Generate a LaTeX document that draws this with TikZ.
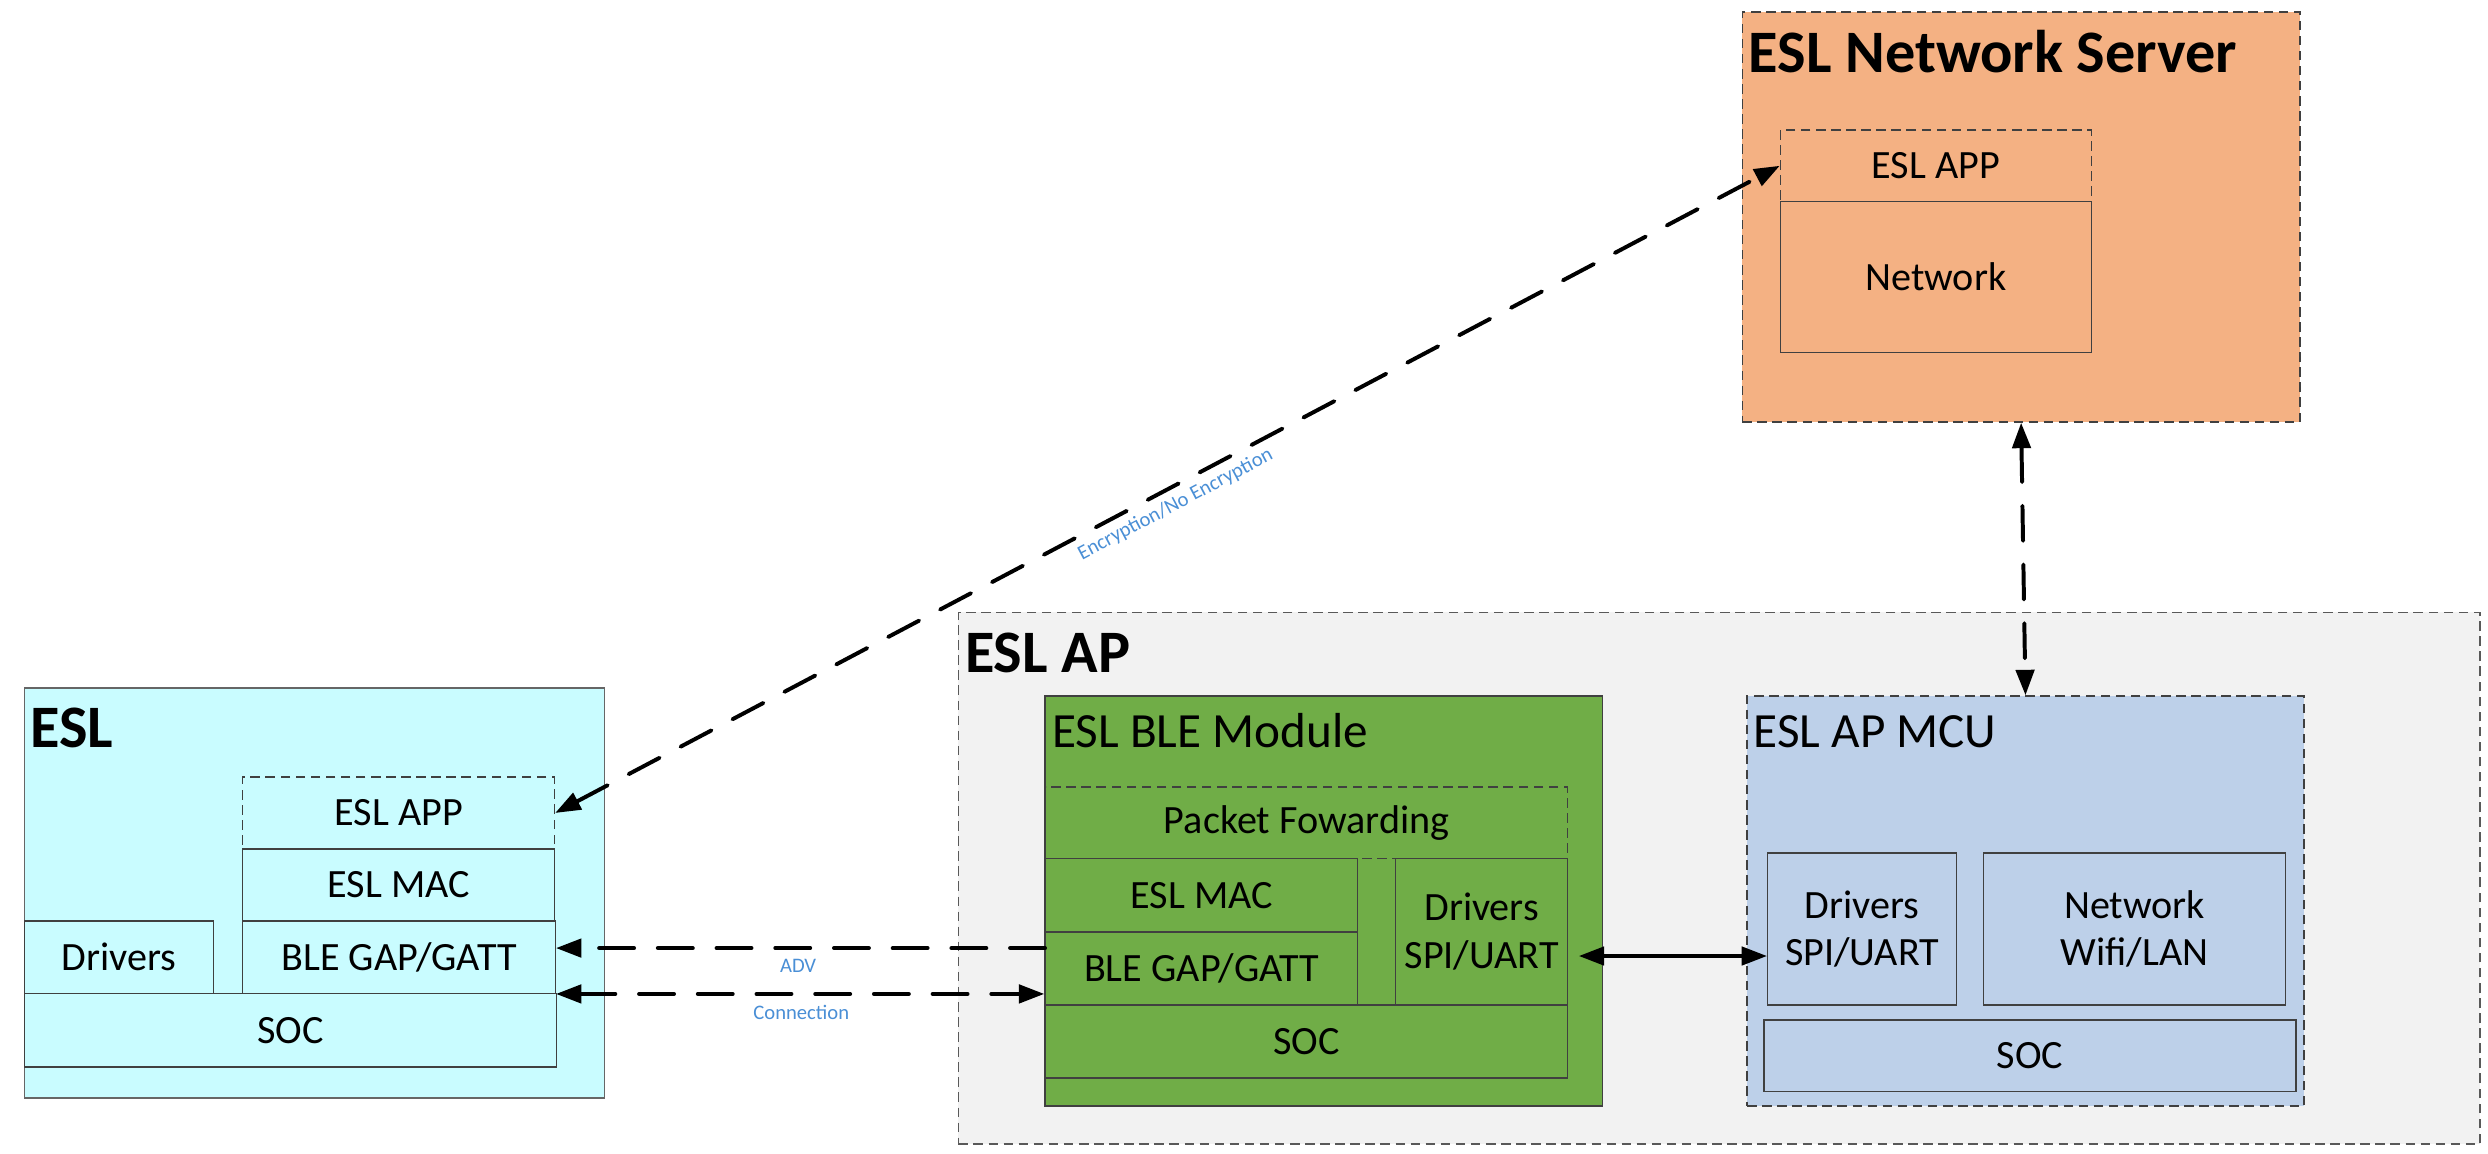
\documentclass[tikz,border=0pt]{standalone}
\usepackage{fontspec}
\setmainfont{Carlito}
\usetikzlibrary{arrows.meta,calc,fit}
\definecolor{srvfill}{HTML}{F4B183}
\definecolor{apfill}{HTML}{F2F2F2}
\definecolor{eslfill}{HTML}{C9FCFF}
\definecolor{blefill}{HTML}{70AD47}
\definecolor{mcufill}{HTML}{BDD0E9}
\definecolor{lblblue}{HTML}{4A8FD6}
\definecolor{edgecol}{HTML}{404040}
\definecolor{apedge}{HTML}{595959}
\begin{document}
\begin{tikzpicture}[x=1pt,y=-1pt,
  layer/.style={draw=edgecol, line width=0.8pt, inner sep=0pt, align=center},
  dlayer/.style={layer, dash pattern=on 6pt off 3.5pt},
  ltxt/.style={font=\fontsize{25.3}{30}\selectfont, align=center},
  outer/.style={inner sep=0pt, line width=0.9pt},
  dashedouter/.style={outer, dash pattern=on 6pt off 3.5pt},
  titletxt/.style={anchor=base west, inner sep=0pt, font=\fontsize{38}{44}\selectfont\bfseries},
  subtitletxt/.style={anchor=base west, inner sep=0pt, font=\fontsize{31}{36}\selectfont},
  lbl/.style={text=lblblue, inner sep=1pt, font=\fontsize{13}{15}\selectfont},
  connline/.style={line width=2.5pt, line cap=round, dash pattern=on 22pt off 15pt},
  solidline/.style={line width=2.5pt},
  onetip/.style={-{Triangle[length=16pt,width=11.5pt]}},
  twotips/.style={{Triangle[length=16pt,width=11.5pt]}-{Triangle[length=16pt,width=11.5pt]}}
]
\fill[white] (0,0) rectangle (1568,727);
\useasboundingbox (0,0) rectangle (1568,727);

% containers
\node[dashedouter, draw=apedge, fill=apfill, fit={(604,386) (1563,721)}] (ap) {};
\node[dashedouter, draw=edgecol, fill=srvfill, fit={(1098,7.5) (1449.5,266)}] (srv) {};
\node[outer, draw=gray!80!black, fill=eslfill, fit={(15.4,433.6) (381,692)}] (esl) {};
\node[outer, draw=edgecol, fill=blefill, fit={(658.6,438.6) (1010,697)}] (ble) {};
\node[dashedouter, draw=edgecol, fill=mcufill, fit={(1101,438.6) (1452,697)}] (mcu) {};

% titles
\node[titletxt] (srvt) at (1102,45.5) {ESL Network Server};
\node[titletxt] (apt) at (608,424) {ESL AP};
\node[titletxt] (eslt) at (19,471) {ESL};
\node[subtitletxt] (blet) at (663,471) {ESL BLE Module};
\node[subtitletxt] (mcut) at (1105,471.4) {ESL AP MCU};

% server layers
\node[dlayer, fit={(1122,82) (1318,127)}] (sapp) {};
\node[ltxt] at (sapp.center) (sappt) {ESL APP};
\node[layer, fit={(1122,127) (1318,222)}] (snet) {};
\node[ltxt] at (snet.center) (snett) {Network};

% ESL layers
\node[dlayer, fit={(153,489.7) (349.5,535)}] (eapp) {};
\node[ltxt] at (eapp.center) (eappt) {ESL APP};
\node[layer, fit={(153,535) (349.5,580.5)}] (emac) {};
\node[ltxt] at (emac.center) (emact) {ESL MAC};
\node[layer, fit={(153,580.5) (350,626)}] (eble) {};
\node[ltxt] at (eble.center) (eblet) {BLE GAP/GATT};
\node[layer, fit={(15.4,580.5) (134.5,626)}] (edrv) {};
\node[ltxt] at (edrv.center) (edrvt) {Drivers};
\node[layer, fit={(15.4,626) (350.5,672.5)}] (esoc) {};
\node[ltxt] at (esoc.center) (esoct) {SOC};

% BLE module layers
\node[dlayer, fit={(659,496) (988,541)}] (bpf) {};
\node[ltxt] at (bpf.center) (bpft) {Packet Fowarding};
\node[layer, fit={(659,541) (855.6,587.4)}] (bmac) {};
\node[ltxt] at (bmac.center) (bmact) {ESL MAC};
\node[layer, fit={(659,587.4) (855.6,633.4)}] (bble) {};
\node[ltxt] at (bble.center) (bblet) {BLE GAP/GATT};
\node[layer, fit={(879.5,541) (988,633.4)}] (bdrv) {};
\node[ltxt] at (bdrv.center) (bdrvt) {Drivers\\SPI/UART};
\node[layer, fit={(659,633.4) (988,679.4)}] (bsoc) {};
\node[ltxt] at (bsoc.center) (bsoct) {SOC};

% MCU layers
\node[layer, fit={(1114,537.6) (1233,633.4)}] (mdrv) {};
\node[ltxt] at (mdrv.center) (mdrvt) {Drivers\\SPI/UART};
\node[layer, fit={(1250,537.6) (1440.5,633.4)}] (mnet) {};
\node[ltxt] at (mnet.center) (mnett) {Network\\Wifi/LAN};
\node[layer, fit={(1111.7,642.8) (1447,688)}] (msoc) {};
\node[ltxt] at (msoc.center) (msoct) {SOC};

% connectors
\draw[connline, twotips] (eapp.east) -- node[lbl, sloped, below=3pt, pos=0.5] (enclbl) {Encryption/No Encryption} (sapp.west);
\draw[connline, twotips] (srv.south) -- (mcu.north);
\coordinate (advR) at (658.6,597.5);
\draw[connline, onetip] (advR) -- (eble.east |- advR);
\draw[connline, twotips] (eble.south east) -- (ble.west |- eble.south east);
\node[lbl] (advlbl) at (503,609) {ADV};
\node[lbl] (connlbl) at (505,638) {Connection};
\coordinate (drvL) at (995,602.5);
\draw[solidline, twotips] (drvL) -- (mdrv.west |- drvL);
\end{tikzpicture}
\end{document}
